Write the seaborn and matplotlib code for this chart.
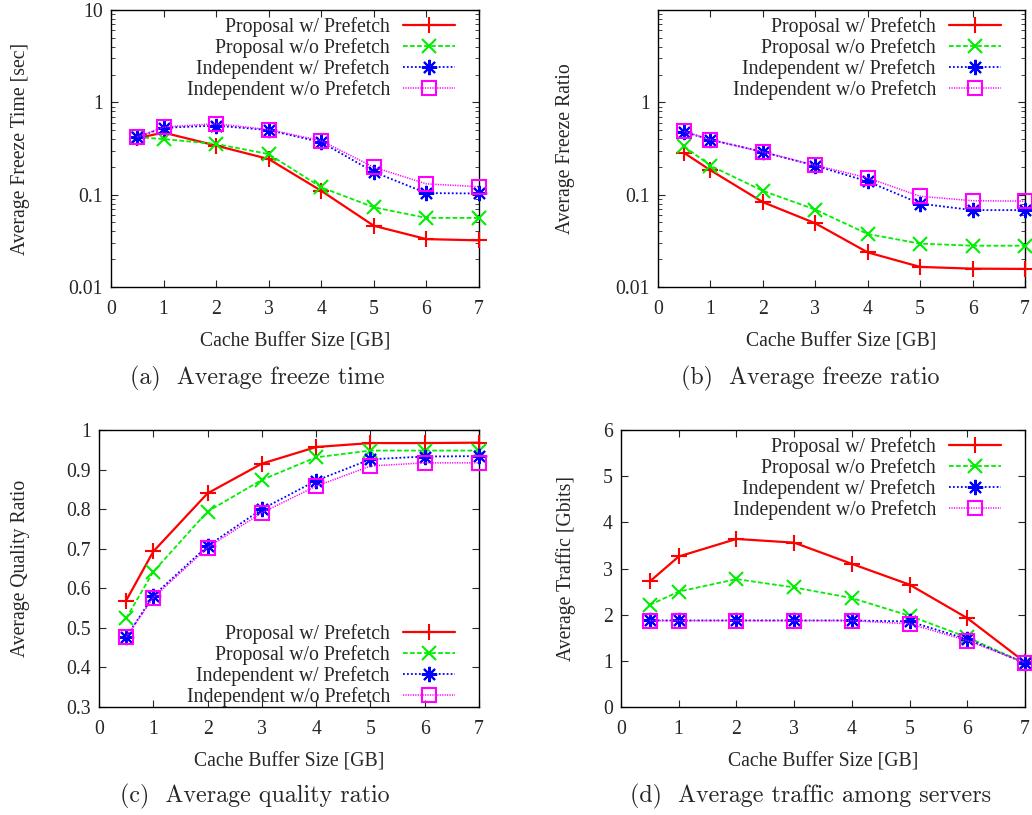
import matplotlib
matplotlib.use("Agg")
import matplotlib.pyplot as plt
import seaborn as sns
import numpy as np
import pandas as pd
from matplotlib.ticker import LogLocator, NullFormatter

# ---------------- data ----------------
cache_gb = [0.5, 1, 2, 3, 4, 5, 6, 7]
series_names = ["Proposal w/ Prefetch", "Proposal w/o Prefetch",
                "Independent w/ Prefetch", "Independent w/o Prefetch"]

freeze_time_prop_pf = [0.41, 0.47, 0.34, 0.243, 0.11, 0.046, 0.033, 0.032]
freeze_time_prop_nopf = [0.42, 0.40, 0.354, 0.275, 0.12, 0.073, 0.056, 0.056]
freeze_time_ind_pf = [0.42, 0.53, 0.56, 0.50, 0.37, 0.176, 0.104, 0.103]
freeze_time_ind_nopf = [0.42, 0.54, 0.587, 0.506, 0.384, 0.198, 0.131, 0.122]

freeze_ratio_prop_pf = [0.283, 0.184, 0.083, 0.049, 0.0237, 0.0165, 0.0158, 0.0157]
freeze_ratio_prop_nopf = [0.333, 0.206, 0.11, 0.069, 0.0375, 0.0295, 0.028, 0.028]
freeze_ratio_ind_pf = [0.477, 0.394, 0.29, 0.206, 0.139, 0.080, 0.068, 0.068]
freeze_ratio_ind_nopf = [0.485, 0.394, 0.29, 0.208, 0.152, 0.096, 0.086, 0.085]

quality_prop_pf = [0.569, 0.693, 0.840, 0.915, 0.957, 0.967, 0.967, 0.968]
quality_prop_nopf = [0.524, 0.642, 0.794, 0.874, 0.931, 0.948, 0.948, 0.948]
quality_ind_pf = [0.476, 0.581, 0.707, 0.800, 0.872, 0.926, 0.933, 0.934]
quality_ind_nopf = [0.477, 0.576, 0.703, 0.791, 0.858, 0.909, 0.917, 0.917]

traffic_prop_pf = [2.72, 3.26, 3.64, 3.56, 3.10, 2.65, 1.925, 0.97]
traffic_prop_nopf = [2.21, 2.50, 2.77, 2.59, 2.36, 1.975, 1.51, 0.95]
traffic_ind_pf = [1.875, 1.875, 1.875, 1.875, 1.875, 1.853, 1.47, 0.95]
traffic_ind_nopf = [1.87, 1.87, 1.87, 1.87, 1.87, 1.80, 1.44, 0.96]

x_ticks = [0, 1, 2, 3, 4, 5, 6, 7]
xlabel = "Cache Buffer Size [GB]"
ylabels = ["Average Freeze Time [sec]", "Average Freeze Ratio",
           "Average Quality Ratio", "Average Traffic [Gbits]"]
captions = ["(a)  Average freeze time", "(b)  Average freeze ratio",
            "(c)  Average quality ratio", "(d)  Average traffic among servers"]

# ---------------- style ----------------
sns.set_style("ticks")
plt.rcParams["font.family"] = ["Liberation Serif", "DejaVu Serif"]

styles = [
    dict(color="#ff0000", marker="+", linestyle="-", lw=1.6, ms=11, mew=1.5),
    dict(color="#00ee00", marker="x", linestyle=(0, (2.6, 1.3)), lw=1.3, ms=10, mew=1.5),
    dict(color="#0000ff", marker=(8, 2, 0), linestyle=(0, (1.0, 1.2)), lw=1.3, ms=11, mew=1.5),
    dict(color="#ff00ff", marker="s", linestyle=(0, (0.8, 0.8)), lw=1.1, ms=10, mew=1.5),
]

fig = plt.figure(figsize=(10.32, 8.15), dpi=100)
W, H = 1032, 815


def add_ax(l, r, t, b):
    return fig.add_axes([l / W, 1 - b / H, (r - l) / W, (b - t) / H])


boxes = [(111, 479, 10, 287), (658, 1025, 10, 287),
         (99, 479, 430, 707), (621, 1025, 430, 707)]
axes = [add_ax(*b) for b in boxes]
ylabel_px = [30, 575, 30, 576]

data_sets = [
    [freeze_time_prop_pf, freeze_time_prop_nopf, freeze_time_ind_pf, freeze_time_ind_nopf],
    [freeze_ratio_prop_pf, freeze_ratio_prop_nopf, freeze_ratio_ind_pf, freeze_ratio_ind_nopf],
    [quality_prop_pf, quality_prop_nopf, quality_ind_pf, quality_ind_nopf],
    [traffic_prop_pf, traffic_prop_nopf, traffic_ind_pf, traffic_ind_nopf],
]

FS = 14.2
for i, (ax, ds) in enumerate(zip(axes, data_sets)):
    for name, vals, st in zip(series_names, ds, styles):
        df = pd.DataFrame({"x": cache_gb, "y": vals})
        sns.lineplot(data=df, x="x", y="y", ax=ax, label=name, sort=False,
                     color=st["color"], marker=st["marker"],
                     linestyle=st["linestyle"], linewidth=st["lw"],
                     markersize=st["ms"], markeredgewidth=st["mew"],
                     markerfacecolor="none", markeredgecolor=st["color"],
                     clip_on=False, zorder=3)
    ax.set_xlim(0, 7)
    ax.set_xticks(x_ticks)
    ax.set_xlabel(xlabel, fontsize=FS, labelpad=10)
    ax.set_ylabel(ylabels[i], fontsize=FS)
    l, r, t, b = boxes[i]
    ax.yaxis.set_label_coords((ylabel_px[i] - l) / (r - l), 0.5)
    ax.tick_params(direction="in", top=True, right=True, labelsize=FS,
                   length=5, width=0.8)
    ax.tick_params(axis="x", pad=9)
    ax.tick_params(axis="y", pad=6)
    ax.tick_params(which="minor", direction="in", top=True, right=True,
                   length=3, width=0.6)
    for sp in ax.spines.values():
        sp.set_visible(True)
        sp.set_linewidth(1.0)
        sp.set_color("black")
    ax.grid(False)

# axis scales
for ax in axes[:2]:
    ax.set_yscale("log")
    ax.set_ylim(0.01, 10)
    ax.yaxis.set_minor_locator(LogLocator(base=10, subs=np.arange(2, 10)))
    ax.yaxis.set_minor_formatter(NullFormatter())
axes[0].set_yticks([0.01, 0.1, 1, 10])
axes[0].set_yticklabels(["0.01", "0.1", "1", "10"])
axes[1].set_yticks([0.01, 0.1, 1])
axes[1].set_yticklabels(["0.01", "0.1", "1"])
axes[2].set_ylim(0.3, 1.0)
axes[2].set_yticks([0.3, 0.4, 0.5, 0.6, 0.7, 0.8, 0.9, 1.0])
axes[2].set_yticklabels(["0.3", "0.4", "0.5", "0.6", "0.7", "0.8", "0.9", "1"])
axes[3].set_ylim(0, 6)
axes[3].set_yticks([0, 1, 2, 3, 4, 5, 6])

# legends (gnuplot style: right-aligned text, sample on the right)
for i, ax in enumerate(axes):
    l, r, t, b = boxes[i]
    ax_x = 1 - 20 / (r - l)
    if i == 2:
        loc, anchor = "lower right", (ax_x, -4 / (b - t))
    else:
        loc, anchor = "upper right", (ax_x, 1 - 3 / (b - t))
    ax.legend(loc=loc, bbox_to_anchor=anchor, frameon=False, markerfirst=False,
              fontsize=FS, handlelength=2.65, labelspacing=0.05,
              handletextpad=0.65, borderaxespad=0.0, borderpad=0.2)

# captions
cap_font = dict(family="cmr10", fontsize=17.3)
fig.text(257 / W, 1 - 378 / H, captions[0], ha="center", va="center", **cap_font)
fig.text(810 / W, 1 - 378 / H, captions[1], ha="center", va="center", **cap_font)
fig.text(255 / W, 1 - 796 / H, captions[2], ha="center", va="center", **cap_font)
fig.text(811 / W, 1 - 796 / H, captions[3], ha="center", va="center", **cap_font)

fig.savefig("out.png", dpi=100)
